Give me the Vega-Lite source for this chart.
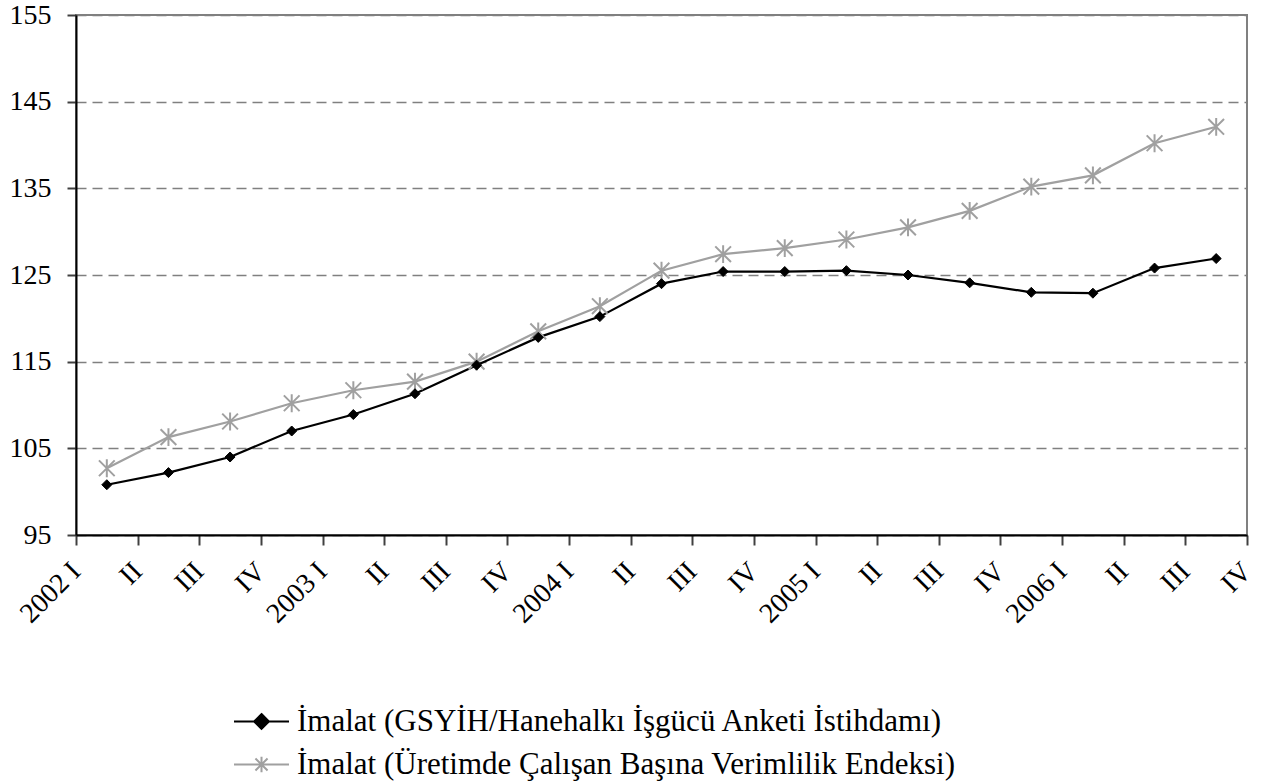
{
  "$schema": "https://vega.github.io/schema/vega-lite/v6.json",
  "autosize": {"type": "none"},
  "width": 1171,
  "height": 520,
  "padding": {"left": 76, "top": 15, "right": 16, "bottom": 246},
  "background": "white",
  "config": {
    "font": "Liberation Serif",
    "view": {"stroke": "#808080", "strokeWidth": 2},
    "legend": {"padding": 0, "titlePadding": 0}
  },
  "data": {
    "values": [
      {"q": 0.5, "series": "İmalat (GSYİH/Hanehalkı İşgücü Anketi İstihdamı)", "value": 100.8},
      {"q": 1.5, "series": "İmalat (GSYİH/Hanehalkı İşgücü Anketi İstihdamı)", "value": 102.2},
      {"q": 2.5, "series": "İmalat (GSYİH/Hanehalkı İşgücü Anketi İstihdamı)", "value": 104.0},
      {"q": 3.5, "series": "İmalat (GSYİH/Hanehalkı İşgücü Anketi İstihdamı)", "value": 107.0},
      {"q": 4.5, "series": "İmalat (GSYİH/Hanehalkı İşgücü Anketi İstihdamı)", "value": 108.9},
      {"q": 5.5, "series": "İmalat (GSYİH/Hanehalkı İşgücü Anketi İstihdamı)", "value": 111.3},
      {"q": 6.5, "series": "İmalat (GSYİH/Hanehalkı İşgücü Anketi İstihdamı)", "value": 114.6},
      {"q": 7.5, "series": "İmalat (GSYİH/Hanehalkı İşgücü Anketi İstihdamı)", "value": 117.8},
      {"q": 8.5, "series": "İmalat (GSYİH/Hanehalkı İşgücü Anketi İstihdamı)", "value": 120.2},
      {"q": 9.5, "series": "İmalat (GSYİH/Hanehalkı İşgücü Anketi İstihdamı)", "value": 124.0},
      {"q": 10.5, "series": "İmalat (GSYİH/Hanehalkı İşgücü Anketi İstihdamı)", "value": 125.4},
      {"q": 11.5, "series": "İmalat (GSYİH/Hanehalkı İşgücü Anketi İstihdamı)", "value": 125.4},
      {"q": 12.5, "series": "İmalat (GSYİH/Hanehalkı İşgücü Anketi İstihdamı)", "value": 125.5},
      {"q": 13.5, "series": "İmalat (GSYİH/Hanehalkı İşgücü Anketi İstihdamı)", "value": 125.0},
      {"q": 14.5, "series": "İmalat (GSYİH/Hanehalkı İşgücü Anketi İstihdamı)", "value": 124.1},
      {"q": 15.5, "series": "İmalat (GSYİH/Hanehalkı İşgücü Anketi İstihdamı)", "value": 123.0},
      {"q": 16.5, "series": "İmalat (GSYİH/Hanehalkı İşgücü Anketi İstihdamı)", "value": 122.9},
      {"q": 17.5, "series": "İmalat (GSYİH/Hanehalkı İşgücü Anketi İstihdamı)", "value": 125.8},
      {"q": 18.5, "series": "İmalat (GSYİH/Hanehalkı İşgücü Anketi İstihdamı)", "value": 126.9},
      {"q": 0.5, "series": "İmalat (Üretimde Çalışan Başına Verimlilik Endeksi)", "value": 102.7},
      {"q": 1.5, "series": "İmalat (Üretimde Çalışan Başına Verimlilik Endeksi)", "value": 106.3},
      {"q": 2.5, "series": "İmalat (Üretimde Çalışan Başına Verimlilik Endeksi)", "value": 108.1},
      {"q": 3.5, "series": "İmalat (Üretimde Çalışan Başına Verimlilik Endeksi)", "value": 110.2},
      {"q": 4.5, "series": "İmalat (Üretimde Çalışan Başına Verimlilik Endeksi)", "value": 111.7},
      {"q": 5.5, "series": "İmalat (Üretimde Çalışan Başına Verimlilik Endeksi)", "value": 112.7},
      {"q": 6.5, "series": "İmalat (Üretimde Çalışan Başına Verimlilik Endeksi)", "value": 115.0},
      {"q": 7.5, "series": "İmalat (Üretimde Çalışan Başına Verimlilik Endeksi)", "value": 118.5},
      {"q": 8.5, "series": "İmalat (Üretimde Çalışan Başına Verimlilik Endeksi)", "value": 121.4},
      {"q": 9.5, "series": "İmalat (Üretimde Çalışan Başına Verimlilik Endeksi)", "value": 125.5},
      {"q": 10.5, "series": "İmalat (Üretimde Çalışan Başına Verimlilik Endeksi)", "value": 127.4},
      {"q": 11.5, "series": "İmalat (Üretimde Çalışan Başına Verimlilik Endeksi)", "value": 128.1},
      {"q": 12.5, "series": "İmalat (Üretimde Çalışan Başına Verimlilik Endeksi)", "value": 129.1},
      {"q": 13.5, "series": "İmalat (Üretimde Çalışan Başına Verimlilik Endeksi)", "value": 130.5},
      {"q": 14.5, "series": "İmalat (Üretimde Çalışan Başına Verimlilik Endeksi)", "value": 132.4},
      {"q": 15.5, "series": "İmalat (Üretimde Çalışan Başına Verimlilik Endeksi)", "value": 135.2},
      {"q": 16.5, "series": "İmalat (Üretimde Çalışan Başına Verimlilik Endeksi)", "value": 136.5},
      {"q": 17.5, "series": "İmalat (Üretimde Çalışan Başına Verimlilik Endeksi)", "value": 140.2},
      {"q": 18.5, "series": "İmalat (Üretimde Çalışan Başına Verimlilik Endeksi)", "value": 142.1}
    ]
  },
  "encoding": {
    "x": {
      "field": "q", "type": "quantitative",
      "scale": {"domain": [0, 19], "nice": false, "zero": false},
      "axis": {
        "title": null,
        "values": [0,1,2,3,4,5,6,7,8,9,10,11,12,13,14,15,16,17,18,19],
        "labelExpr": "['2002 I','II','III','IV','2003 I','II','III','IV','2004 I','II','III','IV','2005 I','II','III','IV','2006 I','II','III','IV'][datum.value]",
        "grid": false,
        "domainColor": "black", "domainWidth": 2,
        "tickColor": "#404040", "tickWidth": 2, "tickSize": 10,
        "labelAngle": -45, "labelAlign": "right", "labelBaseline": "middle",
        "labelPadding": 22,
        "labelFont": "Liberation Serif", "labelFontSize": 28, "labelColor": "black",
        "labelOverlap": false, "labelBound": false, "labelFlush": false
      }
    },
    "y": {
      "field": "value", "type": "quantitative",
      "scale": {"domain": [95, 155], "nice": false, "zero": false},
      "axis": {
        "title": null,
        "values": [95, 105, 115, 125, 135, 145, 155],
        "grid": true, "gridColor": "#808080", "gridWidth": 1.5, "gridDash": [10, 6],
        "domainColor": "black", "domainWidth": 2,
        "tickColor": "#404040", "tickWidth": 2, "tickSize": 9,
        "labelPadding": 16,
        "labelFont": "Liberation Serif", "labelFontSize": 28, "labelColor": "black",
        "labelOverlap": false, "labelFlush": false
      }
    }
  },
  "layer": [
    {
      "mark": {"type": "line", "strokeWidth": 2.2},
      "encoding": {
        "stroke": {
          "field": "series", "type": "nominal",
          "scale": {
            "domain": ["İmalat (GSYİH/Hanehalkı İşgücü Anketi İstihdamı)", "İmalat (Üretimde Çalışan Başına Verimlilik Endeksi)"],
            "range": ["#000000", "#a0a0a0"]
          },
          "legend": {
            "title": null,
            "orient": "none",
            "legendX": 157,
            "legendY": 721,
            "values": ["İmalat (Üretimde Çalışan Başına Verimlilik Endeksi)"],
            "symbolType": "M-1,0H1M-0.22,-0.22L0.22,0.22M-0.22,0.22L0.22,-0.22M0,-0.28V0.28",
            "symbolSize": 3025,
            "symbolStrokeWidth": 2,
            "symbolFillColor": "transparent",
            "symbolOpacity": 1,
            "labelFont": "Liberation Serif",
            "labelFontSize": 31,
            "labelColor": "black",
            "labelOffset": 7,
            "labelLimit": 1000
          }
        }
      }
    },
    {
      "transform": [{"filter": {"field": "series", "equal": "İmalat (Üretimde Çalışan Başına Verimlilik Endeksi)"}}],
      "mark": {"type": "point", "shape": "M-1.5,-1.5L1.5,1.5M-1.5,1.5L1.5,-1.5M0,-1.7V1.7", "filled": false, "fill": "transparent", "strokeWidth": 2, "opacity": 1, "size": 110},
      "encoding": {
        "stroke": {
          "field": "series", "type": "nominal",
          "legend": {
            "title": null,
            "orient": "none",
            "legendX": 157,
            "legendY": 721,
            "values": ["İmalat (Üretimde Çalışan Başına Verimlilik Endeksi)"],
            "symbolType": "M-1,0H1M-0.22,-0.22L0.22,0.22M-0.22,0.22L0.22,-0.22M0,-0.28V0.28",
            "symbolSize": 3025,
            "symbolStrokeWidth": 2,
            "symbolFillColor": "transparent",
            "symbolOpacity": 1,
            "labelFont": "Liberation Serif",
            "labelFontSize": 31,
            "labelColor": "black",
            "labelOffset": 7,
            "labelLimit": 1000
          }
        }
      }
    },
    {
      "transform": [{"filter": {"field": "series", "equal": "İmalat (GSYİH/Hanehalkı İşgücü Anketi İstihdamı)"}}],
      "mark": {"type": "point", "shape": "diamond", "filled": true, "stroke": "#000000", "strokeWidth": 1, "opacity": 1, "size": 100},
      "encoding": {
        "fill": {
          "field": "series", "type": "nominal",
          "scale": {
            "domain": ["İmalat (GSYİH/Hanehalkı İşgücü Anketi İstihdamı)"],
            "range": ["#000000"]
          },
          "legend": {
            "title": null,
            "orient": "none",
            "legendX": 157,
            "legendY": 678,
            "symbolType": "M-1,0H1M0,-0.27L0.27,0L0,0.27L-0.27,0Z",
            "symbolSize": 3025,
            "symbolStrokeWidth": 2,
            "symbolStrokeColor": "#000000",
            "symbolOpacity": 1,
            "labelFont": "Liberation Serif",
            "labelFontSize": 31,
            "labelColor": "black",
            "labelOffset": 7,
            "labelLimit": 1000
          }
        }
      }
    }
  ]
}
